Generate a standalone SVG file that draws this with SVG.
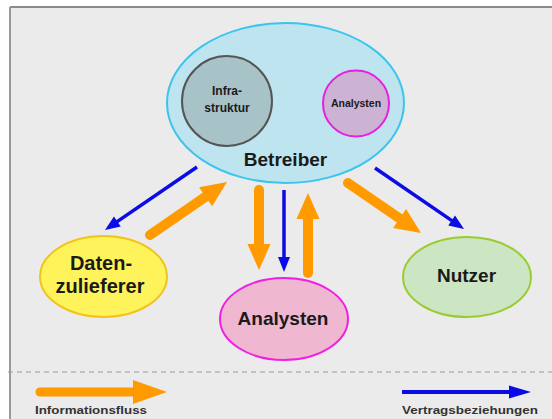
<svg xmlns="http://www.w3.org/2000/svg" width="552" height="419" viewBox="0 0 552 419">
<style>
.lbl{font-family:"Liberation Sans",Arial,sans-serif;font-weight:bold;fill:#1a1a1a;text-anchor:middle}
.big{font-size:19px}
.leg{font-family:"Liberation Sans",Arial,sans-serif;font-weight:bold;fill:#333;font-size:11px}
.or{stroke:#ff9a00;stroke-width:10;stroke-linecap:round;fill:none;marker-end:url(#headO)}
.bl{stroke:#0b0be6;stroke-width:3.5;fill:none;marker-end:url(#headB)}
</style>
<defs>
<marker id="headO" markerUnits="userSpaceOnUse" viewBox="0 0 26 23" refX="9" refY="11.5" markerWidth="26" markerHeight="23" orient="auto" overflow="visible">
<path d="M0,0 L26,11.5 L0,23 z" fill="#ff9a00"/>
</marker>
<marker id="headB" markerUnits="userSpaceOnUse" viewBox="0 0 15 12" refX="6" refY="6" markerWidth="15" markerHeight="12" orient="auto" overflow="visible">
<path d="M0,0 L15,6 L0,12 z" fill="#0b0be6"/>
</marker>
</defs>
<rect x="0" y="0" width="552" height="419" fill="#ffffff"/>
<rect x="10" y="7" width="542" height="412" fill="#ebebeb"/>
<line x1="10" y1="7" x2="552" y2="7" stroke="#8a8a8a" stroke-width="2"/>
<line x1="10" y1="7" x2="10" y2="419" stroke="#9a9a9a" stroke-width="2"/>
<line x1="8" y1="372" x2="552" y2="372" stroke="#9a9a9a" stroke-width="1.2" stroke-dasharray="5,4"/>

<g id="betreiber">
<ellipse cx="285.5" cy="103" rx="118.5" ry="80" fill="#bde4ef" stroke="#3cc4ec" stroke-width="2"/>
<text class="lbl big" x="285.5" y="166">Betreiber</text>
</g>
<g id="infrastruktur">
<circle cx="227" cy="101" r="45" fill="#a8c3c8" stroke="#555" stroke-width="2"/>
<text class="lbl" x="227" y="95" font-size="12">Infra-</text>
<text class="lbl" x="227" y="112" font-size="12">struktur</text>
</g>
<g id="analysten-intern">
<circle cx="356" cy="103.5" r="33" fill="#ccb3d4" stroke="#e81ee0" stroke-width="2"/>
<text class="lbl" x="356" y="107" font-size="10.5">Analysten</text>
</g>
<g id="datenzulieferer">
<ellipse cx="103.5" cy="276.5" rx="63.5" ry="40.5" fill="#fff35c" stroke="#f2c41a" stroke-width="2"/>
<text class="lbl" x="101" y="270" font-size="20">Daten-</text>
<text class="lbl" x="100" y="293" font-size="20">zulieferer</text>
</g>
<g id="analysten">
<ellipse cx="284" cy="319" rx="64" ry="41" fill="#efb7d0" stroke="#f020e0" stroke-width="2"/>
<text class="lbl big" x="283" y="325">Analysten</text>
</g>
<g id="nutzer">
<ellipse cx="467" cy="277" rx="64" ry="40" fill="#cce6c4" stroke="#99cc33" stroke-width="2"/>
<text class="lbl big" x="466.5" y="282">Nutzer</text>
</g>

<g id="connectors">
<line class="bl" x1="197" y1="167" x2="112.4" y2="224.9"/>
<line class="or" x1="150" y1="235" x2="213" y2="191.6"/>
<line class="or" x1="259" y1="190" x2="259" y2="253"/>
<line class="bl" x1="284" y1="190" x2="284" y2="263"/>
<line class="or" x1="308" y1="273" x2="308" y2="210"/>
<line class="or" x1="348" y1="183" x2="407" y2="223.5"/>
<line class="bl" x1="375" y1="168" x2="456.6" y2="223.9"/>
</g>

<g id="legend">
<line x1="40" y1="392" x2="136" y2="392" stroke="#ff9a00" stroke-width="9" stroke-linecap="round"/>
<path d="M133,380 L167,392 L133,404 z" fill="#ff9a00"/>
<text class="leg" x="35" y="414" textLength="112" lengthAdjust="spacingAndGlyphs">Informationsfluss</text>
<line x1="402" y1="392" x2="512" y2="392" stroke="#0b0be6" stroke-width="4"/>
<path d="M509,385.5 L531,392 L509,398.5 z" fill="#0b0be6"/>
<text class="leg" x="402" y="414" textLength="136" lengthAdjust="spacingAndGlyphs">Vertragsbeziehungen</text>
</g>
</svg>
